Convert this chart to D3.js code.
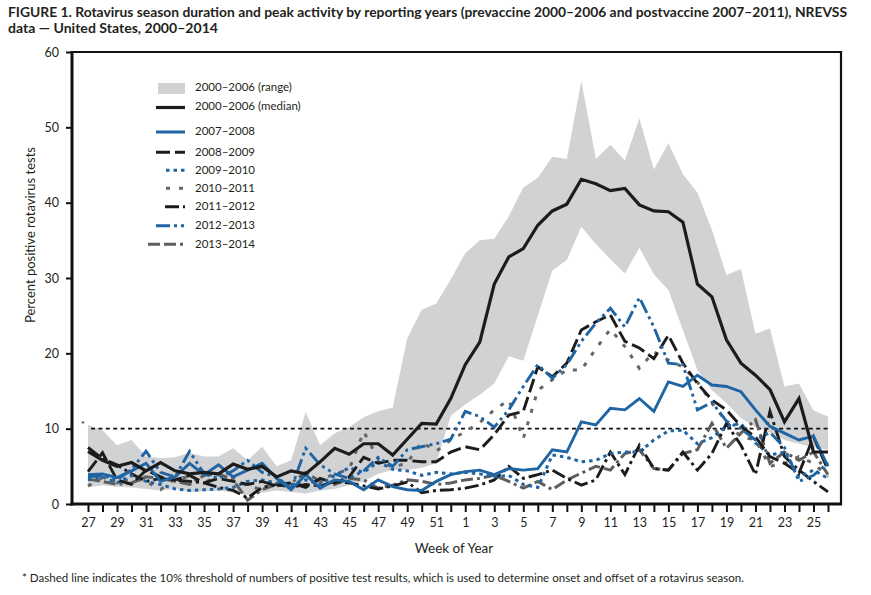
<!DOCTYPE html>
<html>
<head>
<meta charset="utf-8">
<script src="https://cdn.jsdelivr.net/npm/d3@7"></script>
<style>
  body { margin: 0; background: #fff; }
  svg { display: block; }
  text { fill: #231f20; }
</style>
</head>
<body>
<svg id="chart" width="871" height="595"></svg>
<script>
// ---------------- DATA ----------------
const weeks = [27,28,29,30,31,32,33,34,35,36,37,38,39,40,41,42,43,44,45,46,47,48,49,50,51,52,
               1,2,3,4,5,6,7,8,9,10,11,12,13,14,15,16,17,18,19,20,21,22,23,24,25,26];

const rangeHigh = [10.5,9.8,7.8,8.5,6.3,6.1,6.2,6.8,6.3,6.3,7.4,5.8,7.6,5.0,5.8,12.2,7.8,9.4,10.2,11.5,12.3,12.8,22.0,25.8,26.6,29.8,
                   33.3,35.0,35.2,38.2,42.0,43.3,46.1,45.8,56.2,45.8,47.7,45.6,51.2,44.4,47.9,43.8,41.3,36.4,30.4,31.2,22.6,23.3,15.6,16.0,12.4,11.6];
const rangeLow  = [2.2,2.5,2.3,2.2,2.0,1.8,2.0,1.6,1.7,1.8,1.5,1.2,1.5,1.8,1.6,1.4,1.8,2.0,2.5,3.0,4.0,4.5,4.5,4.8,5.4,11.7,
                   13.2,14.5,16.0,19.6,19.0,25.0,31.0,32.4,36.8,34.5,32.5,30.6,34.0,30.5,28.4,23.1,17.8,15.1,13.4,11.4,10.2,9.5,8.5,8.0,7.5,7.2];
const median    = [7.0,5.8,5.0,5.5,4.4,5.5,4.4,4.0,4.2,4.0,5.3,4.6,5.0,3.6,4.4,4.0,5.6,7.4,6.6,8.0,8.0,6.5,8.6,10.7,10.6,14.0,
                   18.5,21.5,29.2,32.8,33.9,37.0,38.9,39.8,43.1,42.5,41.6,41.9,39.7,38.9,38.8,37.4,29.2,27.5,21.8,18.7,17.1,15.2,10.9,14.0,6.9,6.9];

const s2007 = [3.9,4.0,3.5,4.4,5.4,3.0,3.6,5.4,3.9,5.2,3.6,4.5,5.4,3.4,1.9,3.9,2.1,3.2,3.0,1.9,3.2,2.3,1.9,1.8,3.0,3.9,
               4.3,4.5,3.9,4.7,4.5,4.7,7.2,6.9,10.9,10.5,12.7,12.5,14.0,12.3,16.2,15.6,17.1,15.8,15.6,14.9,12.5,10.3,9.4,8.5,9.0,5.0];
const s2008 = [4.3,6.8,3.2,2.6,4.5,3.6,3.2,3.8,2.8,3.4,3.0,2.6,3.0,2.4,2.8,2.2,3.4,2.8,3.6,6.2,5.4,5.8,5.8,5.6,5.6,6.9,
               7.6,7.2,9.2,11.8,12.3,18.2,16.9,18.7,23.1,24.2,25.1,21.6,20.7,19.3,22.4,18.7,16.0,13.8,12.5,10.3,8.9,6.3,5.4,4.1,8.9,4.5];
const s2009 = [3.2,3.6,2.8,3.8,3.0,2.6,2.0,1.8,1.9,2.0,2.2,3.0,3.2,2.8,2.4,3.2,2.6,3.8,4.8,4.2,5.6,4.6,4.4,3.8,4.2,4.0,
               4.2,4.0,3.6,3.8,2.6,2.2,6.5,6.2,5.6,5.8,6.7,6.9,6.9,8.5,9.7,9.8,8.0,8.8,10.3,10.7,8.1,6.5,6.9,3.6,4.5,3.4];
const s2010 = [2.4,3.5,2.9,3.3,3.0,1.9,3.4,3.6,2.8,3.8,3.5,2.4,1.9,3.0,2.6,2.4,3.2,4.0,4.6,9.6,6.0,4.8,5.5,8.2,7.0,8.5,
               9.6,10.8,12.5,13.8,8.7,15.1,16.5,17.8,17.8,20.6,23.2,20.9,18.0,20.2,19.1,18.2,16.2,13.4,10.9,8.9,8.5,5.0,5.4,6.3,5.4,3.6];
const s2011 = [7.5,6.0,5.2,4.0,3.0,3.4,3.2,3.0,2.8,2.2,1.8,0.8,2.2,2.6,2.2,2.6,2.4,3.0,2.8,2.4,2.0,2.4,2.9,1.5,1.8,1.9,
               2.1,2.5,3.2,5.0,3.4,3.9,4.5,3.4,2.5,3.2,6.9,3.9,7.8,4.7,4.5,6.9,4.5,6.7,10.7,7.8,3.9,12.3,6.3,4.5,3.0,1.6];
const s2012 = [3.6,3.8,3.2,4.6,7.0,4.2,3.6,7.0,4.0,3.4,4.4,5.8,4.2,3.6,2.0,7.4,5.2,4.0,3.4,4.4,6.2,5.0,7.2,7.6,8.0,8.6,
               12.3,11.6,10.2,12.5,15.6,18.5,16.7,18.5,21.6,24.0,26.0,23.5,27.4,23.5,18.7,18.5,12.5,13.5,11.0,10.0,8.5,9.5,7.5,3.0,3.8,5.5];
const s2013 = [3.3,3.0,2.6,2.8,3.6,3.4,3.0,2.6,3.8,4.0,3.2,0.5,1.9,2.6,2.8,4.2,3.0,2.6,3.4,3.2,2.1,2.5,3.2,3.0,2.6,2.8,
               3.2,3.4,3.8,3.0,2.1,3.0,1.9,3.2,4.1,5.0,4.5,6.7,7.2,4.7,4.5,6.7,7.2,10.7,7.4,9.4,11.2,5.4,6.9,5.8,6.9,3.9];

const seriesNames = ["2007–2008","2008–2009","2009–2010","2010–2011","2011–2012","2012–2013","2013–2014"];
const seriesValues = [s2007, s2008, s2009, s2010, s2011, s2012, s2013];
const yTicks = [0,10,20,30,40,50,60];
const threshold = 10;

// ---------------- STYLES ----------------
const blue = "#1f64a3", black = "#1c1c1c", gray = "#666666", grayDark = "#5e5e5e";
const styles = [
  {color: blue,  dash: null,               w: 2.9, lx: 156},
  {color: black, dash: "14,5",             w: 2.9, lx: 156},
  {color: blue,  dash: "3.5,4",            w: 3.0, lx: 166},
  {color: gray,  dash: "4,9",              w: 3.0, lx: 166},
  {color: black, dash: "14,4,3,4",         w: 2.9, lx: 165},
  {color: blue,  dash: "14,4,3,4,3,4",     w: 2.9, lx: 156},
  {color: grayDark, dash: "12,4,12,4,3,4", w: 3.0, lx: 148}
];

const svg = d3.select("#chart");
const L = 72, R = 841, T = 52, B = 504;

const x = d3.scalePoint().domain(weeks).range([88, 828]);
const y = d3.scaleLinear().domain([0, 60]).range([B, T]);
const font = "Lato, 'Open Sans', sans-serif";

// title
svg.append("text").attr("x", 8).attr("y", 17)
  .attr("font-family", font).attr("font-weight", "bold").attr("font-size", 13.5)
  .attr("textLength", 839).attr("lengthAdjust", "spacingAndGlyphs")
  .text("FIGURE 1. Rotavirus season duration and peak activity by reporting years (prevaccine 2000–2006 and postvaccine 2007–2011), NREVSS");
svg.append("text").attr("x", 8).attr("y", 33)
  .attr("font-family", font).attr("font-weight", "bold").attr("font-size", 13.5)
  .attr("textLength", 210).attr("lengthAdjust", "spacingAndGlyphs")
  .text("data — United States, 2000–2014");

// band
const area = d3.area()
  .x((d, i) => x(weeks[i]))
  .y0((d, i) => y(rangeLow[i]))
  .y1(d => y(d));
svg.append("path").datum(rangeHigh).attr("d", area).attr("fill", "#d1d2d4");

// threshold
svg.append("line")
  .attr("x1", 91).attr("x2", 828).attr("y1", y(threshold)).attr("y2", y(threshold))
  .attr("stroke", "#111").attr("stroke-width", 1.6).attr("stroke-dasharray", "4,3.4");
svg.append("text").attr("x", 83).attr("y", y(threshold) - 1)
  .attr("text-anchor", "middle").attr("font-family", font).attr("font-size", 10).text("*");

// lines
const line = d3.line().x((d, i) => x(weeks[i])).y(d => y(d));
const order = [6, 3, 4, 2, 1, 5, 0];
order.forEach(k => {
  svg.append("path").datum(seriesValues[k]).attr("d", line)
    .attr("fill", "none").attr("stroke", styles[k].color)
    .attr("stroke-width", styles[k].w)
    .attr("stroke-dasharray", styles[k].dash)
    .attr("stroke-linejoin", "miter");
});
svg.append("path").datum(median).attr("d", line)
  .attr("fill", "none").attr("stroke", black).attr("stroke-width", 3.2);

// frame
svg.append("line").attr("x1", L).attr("x2", R).attr("y1", T).attr("y2", T).attr("stroke", "#111").attr("stroke-width", 2);
svg.append("line").attr("x1", R).attr("x2", R).attr("y1", T - 1).attr("y2", B + 1).attr("stroke", "#111").attr("stroke-width", 2.2);

// axes
const yAxis = svg.append("g").attr("transform", `translate(${L},0)`)
  .call(d3.axisLeft(y).tickValues(yTicks).tickSize(6).tickPadding(7));
const xAxis = svg.append("g").attr("transform", `translate(0,${B})`)
  .call(d3.axisBottom(x).tickSize(8).tickPadding(6).tickFormat(d => d % 2 === 1 ? d : ""));
[yAxis, xAxis].forEach(g => {
  g.select(".domain").remove();
  g.selectAll(".tick line").attr("stroke", "#111").attr("stroke-width", 2);
  g.selectAll(".tick text").attr("font-family", font).attr("font-size", 12.5).attr("fill", "#231f20");
});
svg.append("line").attr("x1", L).attr("x2", L).attr("y1", T - 1).attr("y2", B + 1.5).attr("stroke", "#111").attr("stroke-width", 3);
svg.append("line").attr("x1", L - 1.5).attr("x2", R + 1).attr("y1", B).attr("y2", B).attr("stroke", "#111").attr("stroke-width", 3);

// axis titles
svg.append("text").attr("transform", "translate(35,235) rotate(-90)")
  .attr("text-anchor", "middle").attr("font-family", font).attr("font-size", 13)
  .text("Percent positive rotavirus tests");
svg.append("text").attr("x", 454).attr("y", 553)
  .attr("text-anchor", "middle").attr("font-family", font).attr("font-size", 13.5)
  .text("Week of Year");

// legend
const lg = svg.append("g").attr("font-family", font).attr("font-size", 11.5);
lg.append("rect").attr("x", 158).attr("y", 83).attr("width", 27).attr("height", 11).attr("fill", "#d1d2d4");
lg.append("text").attr("x", 195).attr("y", 88.5).attr("dominant-baseline", "middle").text("2000–2006 (range)");
lg.append("line").attr("x1", 156).attr("x2", 185).attr("y1", 107.5).attr("y2", 107.5).attr("stroke", black).attr("stroke-width", 3.2);
lg.append("text").attr("x", 195).attr("y", 107.5).attr("dominant-baseline", "middle").text("2000–2006 (median)");
const legY = [132, 152.3, 170.3, 188.3, 206.7, 225.7, 244.3];
seriesNames.forEach((n, k) => {
  const st = styles[k];
  lg.append("line").attr("x1", st.lx).attr("x2", 185).attr("y1", legY[k]).attr("y2", legY[k])
    .attr("stroke", st.color).attr("stroke-width", 3).attr("stroke-dasharray", st.dash);
  lg.append("text").attr("x", 195).attr("y", legY[k] + 0.5).attr("dominant-baseline", "middle").text(n);
});

// footnote
svg.append("text").attr("x", 22).attr("y", 582)
  .attr("font-family", font).attr("font-size", 11)
  .attr("textLength", 722).attr("lengthAdjust", "spacingAndGlyphs")
  .text("* Dashed line indicates the 10% threshold of numbers of positive test results, which is used to determine onset and offset of a rotavirus season.");
</script>
</body>
</html>
